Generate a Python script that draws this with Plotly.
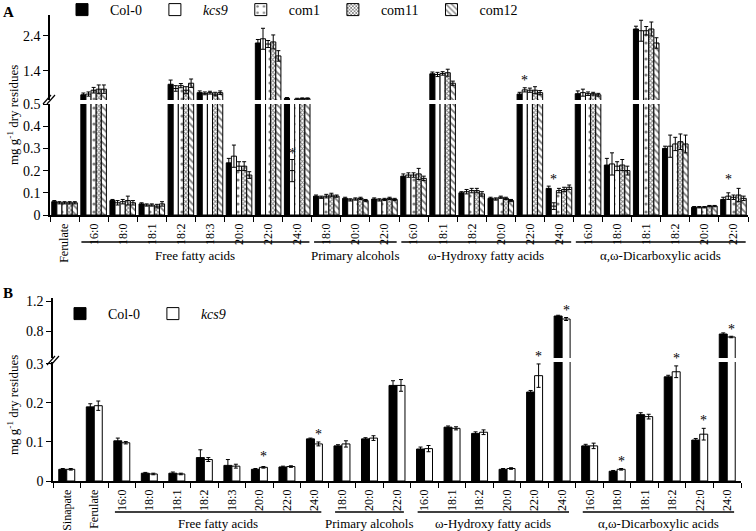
import plotly.graph_objects as go

W, H = 756, 531
FONT = "Liberation Serif"

# ---------------- Panel A data ----------------
A_cats = ["Ferulate", "16:0", "18:0", "18:1", "18:2", "18:3", "20:0", "22:0", "24:0",
          "18:0", "20:0", "22:0",
          "16:0", "18:1", "18:2", "20:0", "22:0", "24:0",
          "16:0", "18:0", "18:1", "18:2", "20:0", "22:0"]
A_groups = [("Free fatty acids", 1, 8), ("Primary alcohols", 9, 11),
            ("ω-Hydroxy fatty acids", 12, 17), ("α,ω-Dicarboxylic acids", 18, 23)]

A_col0 = [0.06, 0.72, 0.065, 0.05, 1.02, 0.78, 0.235, 2.2, 0.62, 0.085, 0.075, 0.072,
          0.175, 1.32, 0.1, 0.075, 0.74, 0.12, 0.75, 0.225, 2.6, 0.3, 0.035, 0.07]
A_kcs9 = [0.055, 0.74, 0.055, 0.045, 0.9, 0.76, 0.265, 2.32, 0.2, 0.08, 0.068, 0.068,
          0.18, 1.3, 0.105, 0.072, 0.86, 0.04, 0.78, 0.23, 2.55, 0.31, 0.035, 0.085]
A_com1 = [0.055, 0.85, 0.06, 0.045, 0.98, 0.78, 0.22, 2.17, 0.6, 0.085, 0.072, 0.07,
          0.18, 1.33, 0.11, 0.08, 0.85, 0.11, 0.75, 0.22, 2.55, 0.32, 0.035, 0.08]
A_com11 = [0.055, 0.88, 0.065, 0.04, 0.85, 0.74, 0.22, 2.23, 0.61, 0.09, 0.075, 0.075,
           0.185, 1.35, 0.11, 0.075, 0.85, 0.115, 0.75, 0.225, 2.6, 0.33, 0.04, 0.09]
A_com12 = [0.055, 0.88, 0.055, 0.05, 1.05, 0.78, 0.18, 1.83, 0.61, 0.085, 0.065, 0.07,
           0.165, 1.05, 0.095, 0.065, 0.78, 0.125, 0.72, 0.2, 2.2, 0.32, 0.04, 0.075]

A_col0_e = [0.005, 0.05, 0.005, 0.005, 0.12, 0.05, 0.02, 0.1, 0.02, 0.005, 0.005, 0.005,
            0.01, 0.05, 0.005, 0.005, 0.05, 0.01, 0.08, 0.03, 0.08, 0.01, 0.003, 0.01]
A_kcs9_e = [0.005, 0.06, 0.01, 0.005, 0.08, 0.04, 0.05, 0.3, 0.05, 0.005, 0.005, 0.005,
            0.01, 0.06, 0.01, 0.005, 0.06, 0.015, 0.1, 0.05, 0.3, 0.05, 0.003, 0.015]
A_com1_e = [0.005, 0.08, 0.01, 0.005, 0.06, 0.04, 0.02, 0.1, 0.02, 0.008, 0.005, 0.005,
            0.01, 0.05, 0.01, 0.005, 0.06, 0.01, 0.05, 0.02, 0.12, 0.03, 0.003, 0.01]
A_com11_e = [0.005, 0.12, 0.02, 0.008, 0.1, 0.05, 0.02, 0.2, 0.02, 0.008, 0.005, 0.005,
             0.025, 0.1, 0.01, 0.005, 0.1, 0.01, 0.04, 0.025, 0.2, 0.035, 0.003, 0.03]
A_com12_e = [0.005, 0.12, 0.01, 0.01, 0.12, 0.05, 0.015, 0.15, 0.02, 0.005, 0.005, 0.005,
             0.01, 0.06, 0.01, 0.005, 0.06, 0.01, 0.04, 0.02, 0.15, 0.04, 0.003, 0.01]

# significance stars over kcs9 (category index, axis, height of star base)
A_stars = [(8, "lo", 0.25), (16, "hi", 0.95), (17, "lo", 0.13), (23, "lo", 0.13)]

# ---------------- Panel B data ----------------
B_cats = ["Sinapate", "Ferulate", "16:0", "18:0", "18:1", "18:2", "18:3", "20:0", "22:0", "24:0",
          "18:0", "20:0", "22:0",
          "16:0", "18:1", "18:2", "20:0", "22:0", "24:0",
          "16:0", "18:0", "18:1", "18:2", "22:0", "24:0"]
B_groups = [("Free fatty acids", 2, 9), ("Primary alcohols", 10, 12),
            ("ω-Hydroxy fatty acids", 13, 18), ("α,ω-Dicarboxylic acids", 19, 24)]

B_col0 = [0.03, 0.19, 0.103, 0.02, 0.02, 0.06, 0.04, 0.03, 0.036, 0.108, 0.09, 0.108, 0.245,
          0.082, 0.138, 0.122, 0.03, 0.228, 1.0, 0.09, 0.025, 0.17, 0.267, 0.105, 0.76]
B_kcs9 = [0.03, 0.193, 0.098, 0.018, 0.018, 0.055, 0.038, 0.035, 0.037, 0.095, 0.095, 0.11, 0.245,
          0.083, 0.135, 0.125, 0.032, 0.27, 0.96, 0.09, 0.03, 0.165, 0.28, 0.12, 0.72]
B_col0_e = [0.002, 0.008, 0.007, 0.002, 0.003, 0.02, 0.015, 0.002, 0.002, 0.002, 0.003, 0.003, 0.012,
            0.005, 0.003, 0.004, 0.002, 0.004, 0.01, 0.004, 0.002, 0.005, 0.004, 0.004, 0.015]
B_kcs9_e = [0.002, 0.012, 0.003, 0.002, 0.002, 0.005, 0.005, 0.002, 0.002, 0.005, 0.008, 0.006, 0.015,
            0.008, 0.004, 0.006, 0.002, 0.03, 0.02, 0.007, 0.002, 0.006, 0.015, 0.015, 0.01]
B_stars = [(7, "lo", 0.045), (9, "lo", 0.103), (17, "lo", 0.302), (18, "hi", 0.99),
           (20, "lo", 0.034), (22, "lo", 0.298), (23, "lo", 0.138), (24, "hi", 0.74)]

A_ticks_lo = [0, 0.1, 0.2, 0.3, 0.4, 0.5]
A_ticks_hi = [1.4, 2.4]
B_ticks_lo = [0, 0.1, 0.2, 0.3]
B_ticks_hi = [0.8, 1.2]


def px(x):
    return x / W


def py(y):
    return 1 - y / H


STY = {
    "Col-0": dict(color="black"),
    "kcs9": dict(color="white"),
    "com1": dict(color="white", pattern=dict(shape=".", size=8, solidity=0.12, fgcolor="black", bgcolor="white")),
    "com11": dict(color="white", pattern=dict(shape="x", size=3, solidity=0.55, fgcolor="black", bgcolor="white")),
    "com12": dict(color="white", pattern=dict(shape="\\", size=5, solidity=0.35, fgcolor="black", bgcolor="white")),
}
LABEL = {"Col-0": "Col-0", "kcs9": "<i>kcs9</i>", "com1": "com1", "com11": "com11", "com12": "com12"}

fig = go.Figure()


def add_panel(series, n, xa, ya_lo, ya_hi, legend, w):
    k = len(series)
    off0 = -k * w / 2
    for i, (key, vals, errs) in enumerate(series):
        for ya, show in ((ya_lo, True), (ya_hi, False)):
            fig.add_trace(go.Bar(
                x=list(range(n)), y=vals, xaxis=xa, yaxis=ya,
                width=w, offset=off0 + i * w,
                marker=dict(line=dict(color="black", width=1), **STY[key]),
                error_y=dict(type="data", array=errs, visible=True, color="black", thickness=1, width=2),
                name=LABEL[key], showlegend=show, legend=legend, hoverinfo="skip"))
    return off0


wA = 0.176
offA = add_panel([("Col-0", A_col0, A_col0_e), ("kcs9", A_kcs9, A_kcs9_e), ("com1", A_com1, A_com1_e),
                  ("com11", A_com11, A_com11_e), ("com12", A_com12, A_com12_e)],
                 len(A_cats), "x", "y", "y2", "legend", wA)
wB = 0.29
offB = add_panel([("Col-0", B_col0, B_col0_e), ("kcs9", B_kcs9, B_kcs9_e)],
                 len(B_cats), "x2", "y3", "y4", "legend2", wB)

tickfont = dict(family=FONT, size=14, color="black")
catfont = dict(family=FONT, size=12, color="black")


def xaxis(dom, n, anchor, cats):
    return dict(domain=dom, range=[-0.5, n - 0.5], anchor=anchor, tickmode="array",
                tickvals=list(range(n)), ticktext=cats, tickangle=-90, ticks="outside",
                ticklen=2, tickcolor="rgba(0,0,0,0)", tickfont=catfont,
                minor=dict(tickmode="array", tickvals=[i - 0.5 for i in range(n + 1)],
                           ticks="outside", ticklen=5, tickcolor="black", tickwidth=1, showgrid=False),
                showline=True, linecolor="black", linewidth=1.5, showgrid=False, zeroline=False,
                fixedrange=True)


def yaxis(dom, rng, anchor, tv):
    return dict(domain=dom, range=rng, anchor=anchor, tickmode="array", tickvals=tv,
                ticktext=[("0" if v == 0 else f"{v:g}") for v in tv], ticks="outside", ticklen=5,
                tickcolor="black", tickfont=tickfont, showline=True, linecolor="black", linewidth=1.5,
                showgrid=False, zeroline=False, fixedrange=True)


fig.update_layout(
    width=W, height=H, margin=dict(l=0, r=0, t=0, b=0, autoexpand=False),
    paper_bgcolor="white", plot_bgcolor="white", barmode="overlay",
    font=dict(family=FONT, color="black"),
    xaxis=xaxis([px(50), px(748)], len(A_cats), "y", A_cats),
    yaxis=yaxis([py(215), py(104)], [0, 0.5], "x", A_ticks_lo),
    yaxis2=yaxis([py(100), py(15)], [0.57, 3.0], "x", A_ticks_hi),
    xaxis2=xaxis([px(53), px(741)], len(B_cats), "y3", B_cats),
    yaxis3=yaxis([py(481), py(362)], [0, 0.305], "x2", B_ticks_lo),
    yaxis4=yaxis([py(358), py(298)], [0.44, 1.24], "x2", B_ticks_hi),
    legend=dict(orientation="h", x=px(54), y=py(10), xanchor="left", yanchor="middle",
                font=dict(family=FONT, size=14), bgcolor="rgba(0,0,0,0)", traceorder="normal",
                itemwidth=46),
    legend2=dict(orientation="h", x=px(52), y=py(314), xanchor="left", yanchor="middle",
                 font=dict(family=FONT, size=14), bgcolor="rgba(0,0,0,0)", traceorder="normal",
                 itemwidth=46),
)

ann = []
shapes = []

# panel letters and axis titles
ann.append(dict(text="<b>A</b>", x=px(8), y=py(12), xref="paper", yref="paper", showarrow=False,
                xanchor="center", yanchor="middle", font=dict(size=15, color="black")))
ann.append(dict(text="<b>B</b>", x=px(8), y=py(293), xref="paper", yref="paper", showarrow=False,
                xanchor="center", yanchor="middle", font=dict(size=15, color="black")))
for yc in (115, 405):
    ann.append(dict(text="mg g<sup>-1</sup> dry residues", x=px(13), y=py(yc), xref="paper", yref="paper",
                    showarrow=False, textangle=-90, xanchor="center", yanchor="middle",
                    font=dict(size=13, color="black")))

# group lines and labels
for groups, xr, yline, ytext in ((A_groups, "x", 242, 256), (B_groups, "x2", 512, 523)):
    ext = 0.42 if xr == "x" else 0.25
    for name, s, e in groups:
        shapes.append(dict(type="line", xref=xr, yref="paper", x0=s - ext, x1=e + ext,
                           y0=py(yline), y1=py(yline), line=dict(color="black", width=1.5)))
        ann.append(dict(text=name, x=(s + e) / 2, y=py(ytext), xref=xr, yref="paper", showarrow=False,
                        xanchor="center", yanchor="middle", font=dict(size=13, color="black")))

# significance stars (over the kcs9 bar)
for stars, xr, ylo, yhi, w, off in ((A_stars, "x", "y", "y2", wA, offA), (B_stars, "x2", "y3", "y4", wB, offB)):
    for idx, ax, yv in stars:
        ann.append(dict(text="*", x=idx + off + 1.5 * w, y=yv, xref=xr, yref=(ylo if ax == "lo" else yhi),
                        showarrow=False, font=dict(size=14, color="black"), xanchor="center",
                        yanchor="bottom", yshift=-3))

# axis-break marks
for (x0, y0) in ((43, 104), (47, 365)):
    for d in (0, 4):
        shapes.append(dict(type="line", xref="paper", yref="paper", x0=px(x0 + d), y0=py(y0),
                           x1=px(x0 + d + 8), y1=py(y0 - 9), line=dict(color="black", width=1.2)))

fig.update_layout(annotations=ann, shapes=shapes)
fig.write_html("out.html", config={"displayModeBar": False},
               post_script="document.body.style.margin='0';document.body.style.padding='0';")
